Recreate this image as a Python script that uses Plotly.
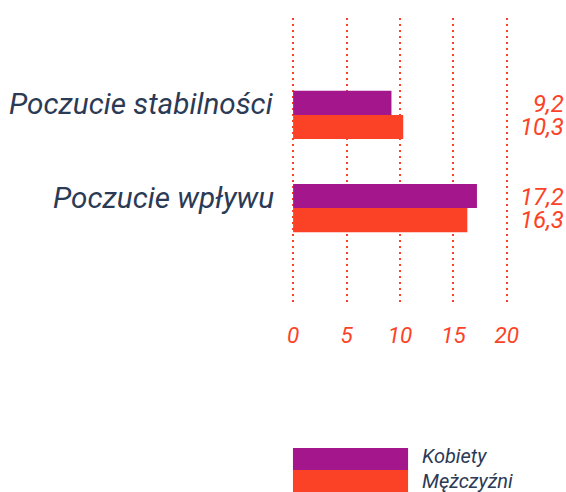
import plotly.graph_objects as go

categories = ["Poczucie stabilności", "Poczucie wpływu"]
series_names = ["Kobiety", "Mężczyźni"]
kobiety = [9.2, 17.2]
mezczyzni = [10.3, 16.3]
x_ticks = [0, 5, 10, 15, 20]

PURPLE = "#A4168C"
ORANGE = "#FC4226"
NAVY = "#2B3A55"
FONT = "Roboto"

fig = go.Figure()
for name, vals, col in [(series_names[0], kobiety, PURPLE), (series_names[1], mezczyzni, ORANGE)]:
    fig.add_trace(go.Bar(
        y=list(range(len(categories))), x=vals, orientation="h", name=name,
        marker=dict(color=col, line=dict(width=0)), showlegend=False,
    ))

def fmt(v):
    return f"{v:.1f}".replace(".", ",")

for i in range(len(categories)):
    for vals, shift in [(kobiety, 11), (mezczyzni, -12)]:
        fig.add_annotation(
            x=1.262, xref="x domain", y=i, yref="y", yshift=shift,
            text=f"<i>{fmt(vals[i])}</i>", showarrow=False, xanchor="right", yanchor="middle",
            font=dict(family=FONT, size=24, color=ORANGE),
        )
    # category label (baseline aligned with category centre)
    fig.add_annotation(
        x=-0.07, xref="x domain", y=i, yref="y", yshift=11,
        text=f"<i>{categories[i]}</i>", showarrow=False, xanchor="right", yanchor="middle",
        font=dict(family=FONT, size=29.7, color=NAVY),
    )

# custom legend
ys = [-0.498, -0.575, -0.652]
text_shift = [3, 0]
for k, (name, col) in enumerate(zip(series_names, [PURPLE, ORANGE])):
    y0, y1 = ys[k], ys[k + 1]
    fig.add_shape(type="rect", xref="x domain", yref="paper", x0=0.009, x1=0.537,
                  y0=y0, y1=y1, fillcolor=col, line=dict(width=0))
    fig.add_annotation(x=0.592, xref="x domain", y=(y0 + y1) / 2, yref="paper",
                       yshift=text_shift[k],
                       text=f"<i>{name}</i>", showarrow=False, xanchor="left", yanchor="middle",
                       font=dict(family=FONT, size=20, color=NAVY))

fig.update_layout(
    width=566, height=492,
    margin=dict(l=291, r=57, t=18, b=187, autoexpand=False),
    paper_bgcolor="white", plot_bgcolor="white",
    barmode="group", bargap=0.484, bargroupgap=0,
    font=dict(family=FONT),
)
fig.update_xaxes(
    range=[-0.2, 20.2], tickvals=x_ticks, ticktext=[f"<i>{t}</i>" for t in x_ticks],
    showgrid=True, gridcolor=ORANGE, gridwidth=2, griddash="2px,4px",
    zeroline=False, showline=False, ticks="", ticklabelstandoff=14,
    tickfont=dict(family=FONT, size=22.5, color=ORANGE), automargin=False,
)
fig.update_yaxes(
    range=[2.04, -1.04], tickvals=list(range(len(categories))),
    showticklabels=False,
    showgrid=False, zeroline=False, showline=False, ticks="", automargin=False,
)

fig.write_html("out.html", config={"displayModeBar": False},
               post_script="document.body.style.margin='0';document.body.style.overflow='hidden';")
